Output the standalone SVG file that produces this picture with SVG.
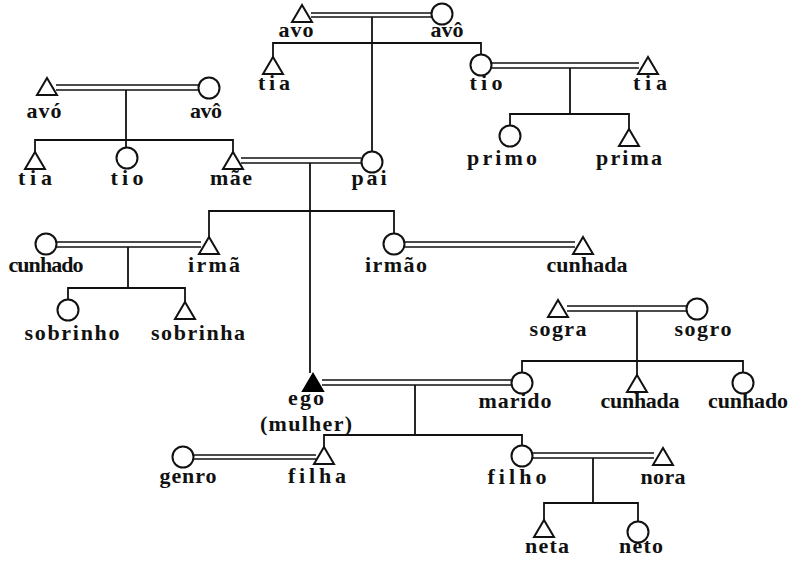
<svg xmlns="http://www.w3.org/2000/svg" width="791" height="561" viewBox="0 0 791 561">
<style>
.bg{fill:#fff}
.ln{stroke:#111;stroke-width:1.8;fill:none}
.m{stroke:#111;stroke-width:1.6;fill:none}
.tri{fill:#fff;stroke:#111;stroke-width:2;stroke-linejoin:miter}
.ego{fill:#000;stroke:#000;stroke-width:2}
.cir{fill:#fff;stroke:#111;stroke-width:2}
text{font-family:"Liberation Serif","Times New Roman",serif;font-size:22px;font-weight:bold;fill:#111;text-anchor:middle}
</style>
<rect class="bg" x="0" y="0" width="791" height="561"/>
<g id="connectors">
<path class="m" d="M311,13H432M311,17H432"/>
<path class="ln" d="M372,17V151"/>
<path class="ln" d="M273,57V43H481V55"/>
<path class="m" d="M491,63H639M491,68H639"/>
<path class="ln" d="M570,68V114M510,125V114H629V129"/>
<path class="m" d="M56,85H198M56,90H198"/>
<path class="ln" d="M126,90V147M35,152V140H233V152"/>
<path class="m" d="M241,158H361M241,163H361"/>
<path class="ln" d="M310,163V373"/>
<path class="ln" d="M209,237V211H394V233"/>
<path class="m" d="M56,242H201M56,247H201"/>
<path class="ln" d="M128,247V288M68,300V288H185V302"/>
<path class="m" d="M404,242H575M404,247H575"/>
<path class="m" d="M567,306H686M567,311H686"/>
<path class="ln" d="M637,311V375M522,372V361H743V372"/>
<path class="m" d="M322,380H511M322,385H511"/>
<path class="ln" d="M415,385V435M324,447V435H522V446"/>
<path class="m" d="M194,455H316M194,459H316"/>
<path class="m" d="M532,453H654M532,458H654"/>
<path class="ln" d="M593,458V503M544,520V503H638V521"/>
</g>
<g id="n-avo-top"><path class="tri" d="M302,5L312,22H292Z"/><text x="296" y="37" textLength="35" lengthAdjust="spacing">avo</text></g>
<g id="n-avoo-top"><circle class="cir" cx="442" cy="14" r="10.5"/><text x="447" y="37" textLength="33" lengthAdjust="spacing">avô</text></g>
<g id="n-tia-top"><path class="tri" d="M273,57L283,74H263Z"/><text x="274" y="90" textLength="32" lengthAdjust="spacing">tia</text></g>
<g id="n-tio-top"><circle class="cir" cx="481" cy="65" r="10.5"/><text x="486" y="90" textLength="33" lengthAdjust="spacing">tio</text></g>
<g id="n-tia-right"><path class="tri" d="M648,57L658,74H638Z"/><text x="650" y="90" textLength="34" lengthAdjust="spacing">tia</text></g>
<g id="n-primo"><circle class="cir" cx="510" cy="136" r="10.5"/><text x="502" y="165" textLength="70" lengthAdjust="spacing">primo</text></g>
<g id="n-prima"><path class="tri" d="M629,129L639,146H619Z"/><text x="629" y="165" textLength="66" lengthAdjust="spacing">prima</text></g>
<g id="n-avo-left"><path class="tri" d="M47,78L57,95H37Z"/><text x="44" y="118" textLength="35" lengthAdjust="spacing">avó</text></g>
<g id="n-avoo-left"><circle class="cir" cx="209" cy="88" r="10.5"/><text x="206" y="118" textLength="32" lengthAdjust="spacing">avô</text></g>
<g id="n-tia-left"><path class="tri" d="M35,152L45,169H25Z"/><text x="35" y="185" textLength="34" lengthAdjust="spacing">tia</text></g>
<g id="n-tio-left"><circle class="cir" cx="127" cy="158" r="10.5"/><text x="127" y="185" textLength="33" lengthAdjust="spacing">tio</text></g>
<g id="n-mae"><path class="tri" d="M233,152L243,169H223Z"/><text x="231" y="185" textLength="42" lengthAdjust="spacing">mãe</text></g>
<g id="n-pai"><circle class="cir" cx="372" cy="162" r="10.5"/><text x="369" y="185" textLength="35" lengthAdjust="spacing">pai</text></g>
<g id="n-cunhado-left"><circle class="cir" cx="46" cy="244" r="10.5"/><text x="46" y="272" textLength="75" lengthAdjust="spacing">cunhado</text></g>
<g id="n-irma"><path class="tri" d="M209,237L219,254H199Z"/><text x="214" y="272" textLength="52" lengthAdjust="spacing">irmã</text></g>
<g id="n-irmao"><circle class="cir" cx="394" cy="244" r="10.5"/><text x="396" y="272" textLength="62" lengthAdjust="spacing">irmão</text></g>
<g id="n-cunhada-1"><path class="tri" d="M583,237L593,254H573Z"/><text x="587" y="272" textLength="81" lengthAdjust="spacing">cunhada</text></g>
<g id="n-sobrinho"><circle class="cir" cx="68" cy="310" r="10.5"/><text x="72" y="340" textLength="95" lengthAdjust="spacing">sobrinho</text></g>
<g id="n-sobrinha"><path class="tri" d="M185,302L195,319H175Z"/><text x="198" y="340" textLength="94" lengthAdjust="spacing">sobrinha</text></g>
<g id="n-sogra"><path class="tri" d="M558,300L568,317H548Z"/><text x="558" y="336" textLength="57" lengthAdjust="spacing">sogra</text></g>
<g id="n-sogro"><circle class="cir" cx="697" cy="309" r="10.5"/><text x="703" y="336" textLength="57" lengthAdjust="spacing">sogro</text></g>
<g id="n-ego"><path class="ego" d="M313,374L323,391H303Z"/><text x="306" y="405" textLength="36" lengthAdjust="spacing">ego</text><text x="306" y="431" textLength="92" lengthAdjust="spacing">(mulher)</text></g>
<g id="n-marido"><circle class="cir" cx="522" cy="383" r="10.5"/><text x="515" y="408" textLength="73" lengthAdjust="spacing">marido</text></g>
<g id="n-cunhada-2"><path class="tri" d="M637,375L647,392H627Z"/><text x="640" y="408" textLength="79" lengthAdjust="spacing">cunhada</text></g>
<g id="n-cunhado-right"><circle class="cir" cx="743" cy="383" r="10.5"/><text x="748" y="408" textLength="80" lengthAdjust="spacing">cunhado</text></g>
<g id="n-genro"><circle class="cir" cx="183" cy="457" r="10.5"/><text x="188" y="483" textLength="57" lengthAdjust="spacing">genro</text></g>
<g id="n-filha"><path class="tri" d="M324,447L334,464H314Z"/><text x="317" y="483" textLength="58" lengthAdjust="spacing">filha</text></g>
<g id="n-filho"><circle class="cir" cx="522" cy="456" r="10.5"/><text x="517" y="484" textLength="59" lengthAdjust="spacing">filho</text></g>
<g id="n-nora"><path class="tri" d="M663,448L673,465H653Z"/><text x="663" y="484" textLength="45" lengthAdjust="spacing">nora</text></g>
<g id="n-neta"><path class="tri" d="M544,520L554,537H534Z"/><text x="547" y="553" textLength="44" lengthAdjust="spacing">neta</text></g>
<g id="n-neto"><circle class="cir" cx="638" cy="532" r="10.5"/><text x="641" y="553" textLength="44" lengthAdjust="spacing">neto</text></g>
</svg>
